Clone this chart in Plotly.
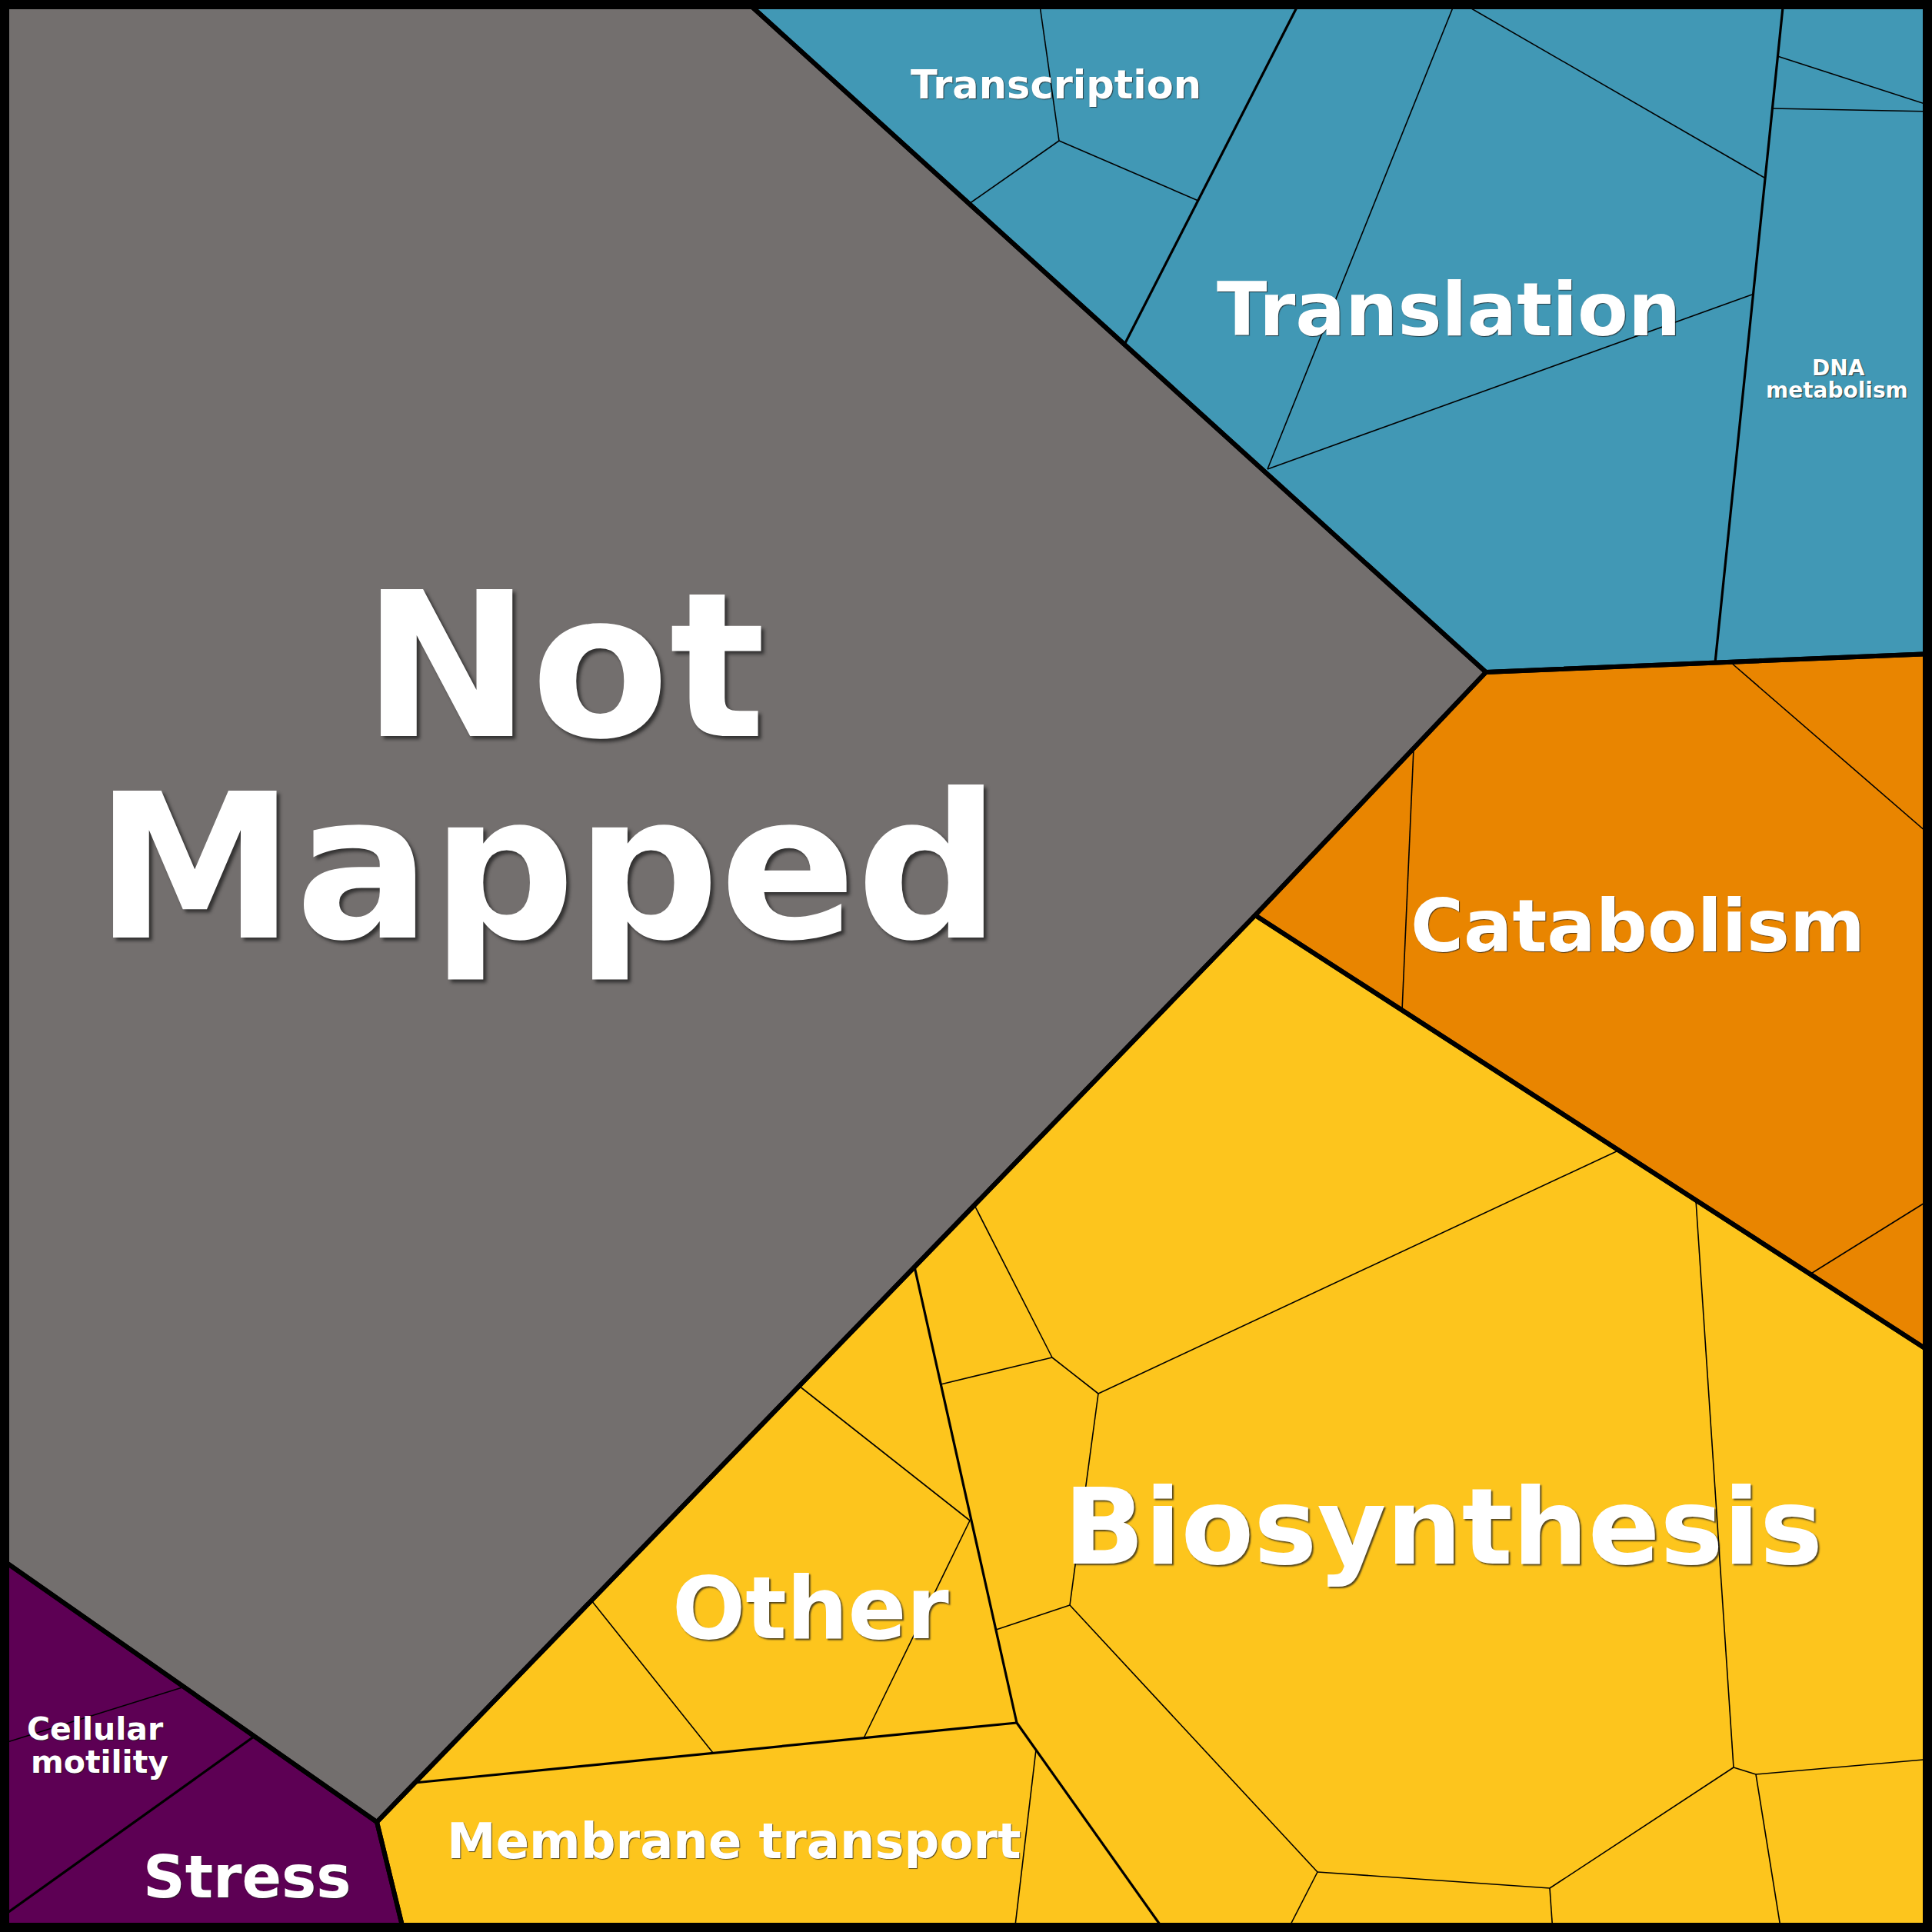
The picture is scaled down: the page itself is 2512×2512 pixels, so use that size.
import plotly.graph_objects as go

# ---------------- data (pixel space of a 2512 x 2512 canvas) ----------------
# top-level groups: name, colour, polygon
group_names = ["Not Mapped", "Information", "Catabolism", "Metabolism", "Cellular processes"]
group_colors = ["#736f6e", "#4198b5", "#e98500", "#fdc51d", "#5d0054"]
group_poly_x = [
    [0, 968, 1932, 1632, 490, 0],
    [968, 2512, 2512, 1932],
    [1932, 2512, 2512, 1632],
    [1632, 2512, 2512, 525, 490],
    [0, 490, 525, 0],
]
group_poly_y = [
    [0, 0, 874, 1190, 2369, 2026],
    [0, 0, 850, 874],
    [874, 850, 1759, 1190],
    [1190, 1759, 2512, 2512, 2369],
    [2026, 2369, 2512, 2512],
]

# second-level boundaries (category borders): x0, y0, x1, y1
level2_x0 = [1691, 2319, 1189, 1322, 1322, 0]
level2_y0 = [0, 0, 1647, 2240, 2240, 2494]
level2_x1 = [1462, 2230, 1322, 539, 1515, 330]
level2_y1 = [448, 862, 2240, 2318, 2512, 2258]

# third-level boundaries (sub-category borders)
level3_x0 = [1351, 1377, 1377, 1893, 1894, 1648, 2311, 2304,
             2250, 1838, 2353,
             2104, 1428, 1368, 1368, 1428, 1391, 1391, 1713, 1713, 2015, 2015,
             2205, 2254, 2283, 2283,
             1039, 1261, 769, 1347, 0]
level3_y0 = [0, 183, 183, 0, 0, 610, 73, 141,
             861, 973, 1657,
             1496, 1812, 1765, 1765, 1812, 2087, 2087, 2434, 2434, 2455, 2455,
             1561, 2298, 2307, 2307,
             1802, 1977, 2081, 2275, 2268]
level3_x1 = [1377, 1260, 1558, 1648, 2294, 2278, 2512, 2512,
             2512, 1823, 2512,
             1428, 1368, 1267, 1223, 1391, 1295, 1713, 2015, 1673, 2254, 2019,
             2254, 2283, 2512, 2316,
             1261, 1123, 927, 1319, 237]
level3_y1 = [183, 265, 261, 610, 231, 383, 138, 145,
             1088, 1314, 1558,
             1812, 1765, 1567, 1800, 2087, 2119, 2434, 2455, 2512, 2298, 2512,
             2298, 2307, 2287, 2512,
             1977, 2260, 2279, 2512, 2194]

# labels: text, x, y, font size
label_text = ["Not", "Mapped", "Transcription", "Translation", "DNA", "metabolism",
              "Catabolism", "Biosynthesis", "Other", "Membrane transport",
              "Cellular", "motility", "Stress"]
label_x = [733, 712, 1373, 1883, 2390, 2388, 2129, 1876, 1054, 954, 124, 129, 321]
label_y = [866, 1128, 110, 403, 478, 507, 1204, 1985, 2091, 2394, 2248, 2291, 2440]
label_size = [262, 262, 51, 96, 28, 28, 94, 138, 112, 64, 41, 41, 76]

# ---------------- figure ----------------
W = 2512
fig = go.Figure()

for name, col, px, py in zip(group_names, group_colors, group_poly_x, group_poly_y):
    fig.add_trace(go.Scatter(
        x=px + [px[0]], y=py + [py[0]], mode="lines", fill="toself",
        fillcolor=col, line=dict(width=0, color=col), name=name,
        hoverinfo="name", showlegend=False))


def seg_trace(x0s, y0s, x1s, y1s, width):
    xs, ys = [], []
    for a, b, c, d in zip(x0s, y0s, x1s, y1s):
        xs += [a, c, None]
        ys += [b, d, None]
    return go.Scatter(x=xs, y=ys, mode="lines", line=dict(color="black", width=width),
                      hoverinfo="skip", showlegend=False)


fig.add_trace(seg_trace(level3_x0, level3_y0, level3_x1, level3_y1, 1.6))
fig.add_trace(seg_trace(level2_x0, level2_y0, level2_x1, level2_y1, 3.2))

# top-level outlines
for px, py in zip(group_poly_x, group_poly_y):
    fig.add_trace(go.Scatter(x=px + [px[0]], y=py + [py[0]], mode="lines",
                             line=dict(color="black", width=6),
                             hoverinfo="skip", showlegend=False))

for t, x, y, s in zip(label_text, label_x, label_y, label_size):
    off = max(1, round(s / 70))
    fig.add_annotation(
        x=x, y=y, text=t, showarrow=False, xanchor="center", yanchor="middle",
        font=dict(family="DejaVu Sans", size=s, color="white", weight="bold",
                  shadow=f"{off}px {off}px {off}px rgba(30,30,30,0.75)"))

fig.add_shape(type="rect", x0=6, y0=6, x1=W - 6, y1=W - 6,
              line=dict(color="black", width=12), fillcolor="rgba(0,0,0,0)")

fig.update_layout(
    width=W, height=W, autosize=False,
    margin=dict(l=0, r=0, t=0, b=0, pad=0),
    paper_bgcolor="black", plot_bgcolor="black",
    xaxis=dict(range=[0, W], visible=False, fixedrange=True),
    yaxis=dict(range=[W, 0], visible=False, fixedrange=True),
    showlegend=False,
)

fig.write_html("out.html")
